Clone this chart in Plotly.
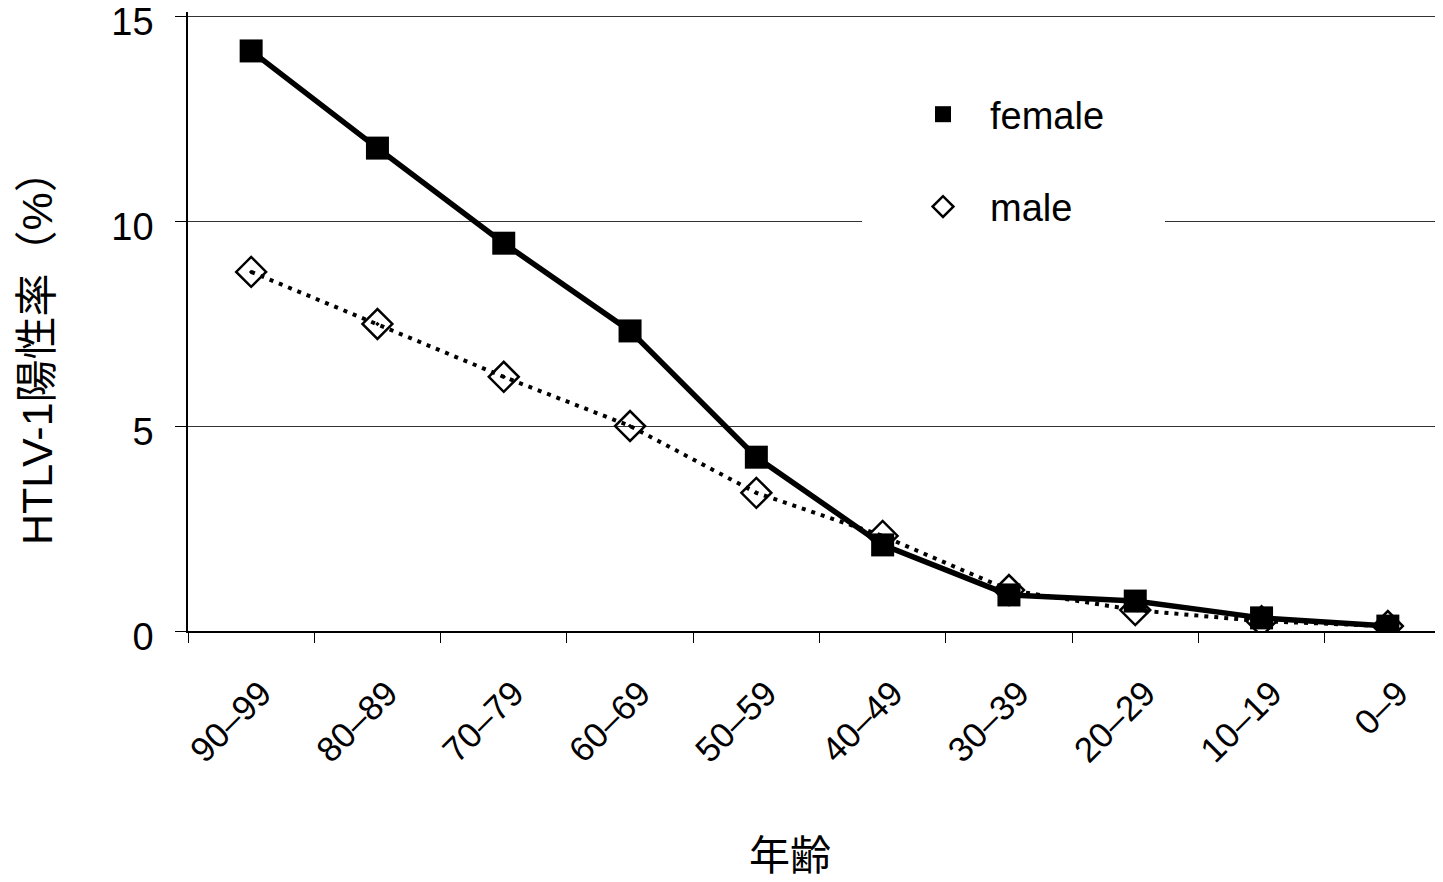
import plotly.graph_objects as go

categories = ["90–99", "80–89", "70–79", "60–69", "50–59", "40–49", "30–39", "20–29", "10–19", "0–9"]
female = [14.15, 11.78, 9.46, 7.32, 4.24, 2.10, 0.88, 0.73, 0.32, 0.12]
male = [8.76, 7.49, 6.20, 5.00, 3.37, 2.32, 1.00, 0.51, 0.24, 0.12]
y_ticks = [0, 5, 10, 15]

FONT = "Liberation Sans, Noto Sans CJK JP"

fig = go.Figure()

fig.add_trace(go.Scatter(
    x=categories, y=male, mode="lines+markers", showlegend=False,
    line=dict(color="black", width=4, dash="4px,6px"),
    marker=dict(symbol="diamond-open-dot", size=23, color="black", line=dict(width=2.5, color="black")),
))
fig.add_trace(go.Scatter(
    x=categories, y=female, mode="lines+markers", showlegend=False,
    line=dict(color="black", width=5.5),
    marker=dict(symbol="square", size=23, color="black"),
))

# legend-only entries (markers only, as in the reference)
fig.add_trace(go.Scatter(
    x=[None], y=[None], mode="markers", name="female", legendgroup="f",
    marker=dict(symbol="square", size=22, color="black"),
))
fig.add_trace(go.Scatter(
    x=[None], y=[None], mode="markers", name="male", legendgroup="m",
    marker=dict(symbol="diamond-open", size=22, color="black", line=dict(width=2.5, color="black")),
))

# page offset of 8px (body margin) is compensated
ML, MT, MB = 180, 4, 259
W, H = 1443, 882
pw = W - ML
ph = H - MT - MB
PX0, PY0 = 188, 631  # page pixel of plot origin
def px(xp):
    return (xp - PX0) / pw
def py(yp):
    return (PY0 - yp) / ph

fig.update_layout(
    width=W, height=H,
    margin=dict(l=ML, r=0, t=MT, b=MB, pad=0),
    paper_bgcolor="white", plot_bgcolor="white",
    font=dict(family=FONT, color="black"),
    legend=dict(
        x=px(896), y=py(83),
        xanchor="left", yanchor="top",
        bgcolor="white", borderwidth=0,
        font=dict(size=38, family=FONT, color="black"),
        tracegroupgap=40, itemsizing="trace", itemwidth=84,
        traceorder="grouped",
    ),
    shapes=[
        dict(type="rect", xref="paper", yref="paper", layer="above",
             x0=px(862), x1=px(1165), y0=py(245), y1=py(90),
             fillcolor="white", line=dict(width=0)),
    ],
    xaxis=dict(
        type="category", categoryorder="array", categoryarray=categories,
        range=[-0.5, 9.5], automargin=False,
        showline=True, linecolor="black", linewidth=1.5,
        ticks="outside", tickson="boundaries", ticklen=10, tickcolor="black", tickwidth=1,
        tickangle=-45, tickfont=dict(size=35, family=FONT),
        ticklabelstandoff=26, ticklabelshift=10,
        showgrid=False, zeroline=False,
    ),
    yaxis=dict(
        range=[0, 15.1], tickvals=y_ticks, automargin=False,
        showline=True, linecolor="black", linewidth=1.5,
        ticks="outside", ticklen=11, tickcolor="black", tickwidth=1,
        showgrid=True, gridcolor="#333333", gridwidth=1, zeroline=False,
        tickfont=dict(size=38, family=FONT), ticklabelstandoff=14,
        ticklabelshift=6, ticklabeloverflow="allow",
    ),
    annotations=[
        dict(text="年齢", xref="paper", yref="paper", x=px(790), y=py(852),
             xanchor="center", yanchor="middle", showarrow=False,
             font=dict(size=41, family="Noto Sans CJK JP", color="black")),
        dict(text="HTLV-1陽性率（%）", xref="paper", yref="paper", x=px(37), y=py(347),
             xanchor="center", yanchor="middle", showarrow=False, textangle=-90,
             font=dict(size=43, family=FONT, color="black")),
    ],
)

fig.write_html("out.html")
